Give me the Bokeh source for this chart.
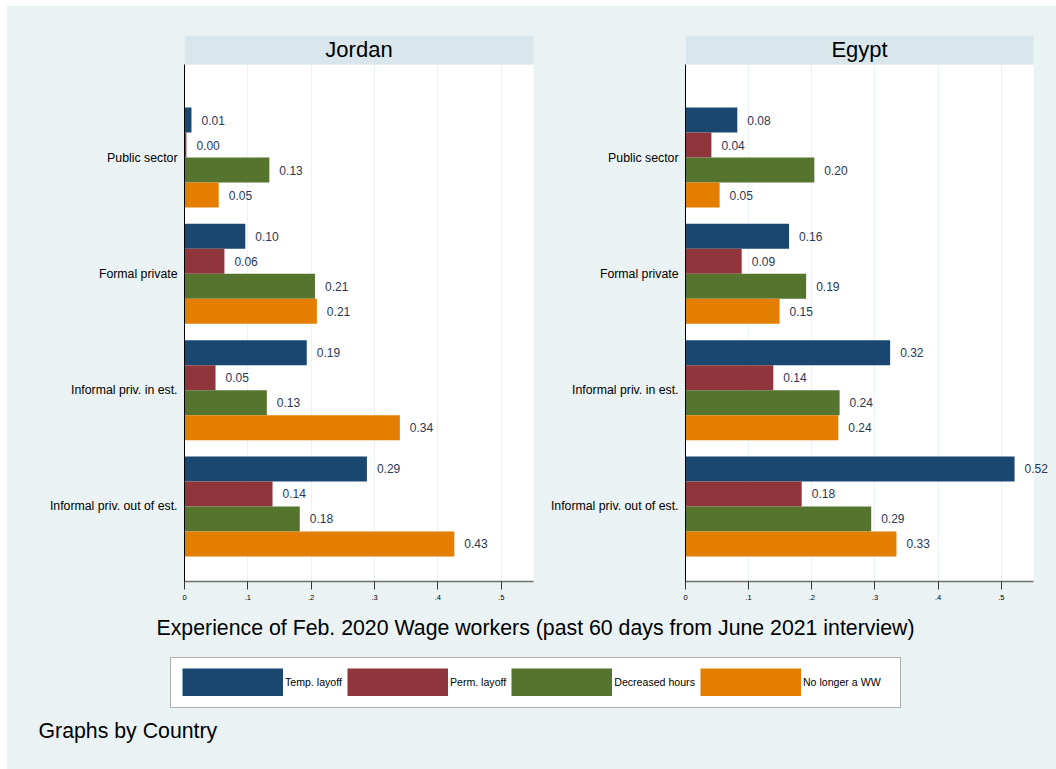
from bokeh.plotting import figure
from bokeh.models import (Range1d, FixedTicker, CustomJSTickFormatter, BoxAnnotation,
                          Label, Legend, LegendItem, ColumnDataSource, Spacer)
from bokeh.layouts import row, column
from bokeh.embed import file_html
from bokeh.resources import INLINE
from bokeh.core.properties import value

# ---------------- data ----------------
countries = ["Jordan", "Egypt"]
sectors = ["Public sector", "Formal private", "Informal priv. in est.", "Informal priv. out of est."]
series = ["Temp. layoff", "Perm. layoff", "Decreased hours", "No longer a WW"]
colors = ["#1A476F", "#90353B", "#55752F", "#E37E00"]

jordan_temp = [0.011, 0.096, 0.193, 0.288]
jordan_perm = [0.003, 0.063, 0.049, 0.139]
jordan_hours = [0.134, 0.206, 0.130, 0.182]
jordan_nolonger = [0.054, 0.209, 0.340, 0.426]

egypt_temp = [0.082, 0.164, 0.324, 0.521]
egypt_perm = [0.041, 0.089, 0.139, 0.184]
egypt_hours = [0.204, 0.191, 0.244, 0.294]
egypt_nolonger = [0.054, 0.149, 0.242, 0.334]

x_ticks = [0, 0.1, 0.2, 0.3, 0.4, 0.5]
x_title = "Experience of Feb. 2020 Wage workers (past 60 days from June 2021 interview)"
note = "Graphs by Country"

# ---------------- style ----------------
BG = "#EAF2F3"
HEADER = "#D9E6EB"
GRID = "#EAF2F3"
LABEL_COLOR = "#2A3756"
FONT = "Liberation Sans"

PX_PER_UNIT = 632.0   # horizontal pixels per 1.0 of share
BAR_H = 0.215
OFFSETS = [(k - 1.5) * BAR_H for k in range(4)]
X_MAX = 0.551
Y_TOP = -0.80          # top of plotting area (data units)
Y_HEAD = -1.049        # top of header strip
Y_BOTTOM = 3.645


def make_panel(name, data, width, left_border, extra_right_px):
    x_end = X_MAX + extra_right_px / PX_PER_UNIT
    p = figure(width=width, height=604,
               x_range=Range1d(0, x_end), y_range=Range1d(Y_BOTTOM, Y_HEAD),
               output_backend="svg", toolbar_location=None,
               min_border_left=left_border, min_border_right=0,
               min_border_top=29, min_border_bottom=29,
               border_fill_color=BG, background_fill_color=BG,
               outline_line_color=None)
    # white plot region
    p.add_layout(BoxAnnotation(left=0, right=X_MAX, top=Y_TOP, bottom=Y_BOTTOM,
                               fill_color="white", fill_alpha=1, line_color=None,
                               level="image"))
    p.ygrid.visible = False
    p.xgrid.grid_line_color = GRID
    p.xgrid.grid_line_width = 1

    for k, vals in enumerate(data):
        src = ColumnDataSource(dict(
            y=[i + OFFSETS[k] for i in range(len(sectors))],
            right=vals,
            label=["%.2f" % v for v in vals],
        ))
        p.hbar(y="y", left=0, right="right", height=BAR_H, source=src,
               fill_color=colors[k], line_color=None)
        p.text(x="right", y="y", text="label", source=src, x_offset=10,
               text_baseline="middle", text_align="left",
               text_font=value(FONT), text_font_size="12px", text_color=LABEL_COLOR)

    # header strip
    p.add_layout(BoxAnnotation(left=0, right=X_MAX, top=Y_HEAD, bottom=Y_TOP,
                               fill_color=HEADER, fill_alpha=1, line_color=None))
    p.add_layout(Label(x=X_MAX / 2, y=(Y_HEAD + Y_TOP) / 2, text=name,
                       text_align="center", text_baseline="middle",
                       text_font=FONT, text_font_size="22px", text_color="black"))

    # y axis
    ya = p.yaxis[0]
    ya.ticker = FixedTicker(ticks=list(range(len(sectors))))
    ya.major_label_overrides = {i: s for i, s in enumerate(sectors)}
    ya.bounds = (Y_TOP, Y_BOTTOM)
    ya.major_tick_out = 0
    ya.major_tick_in = 0
    ya.minor_tick_out = 0
    ya.minor_tick_in = 0
    ya.axis_line_color = "black"
    ya.axis_line_width = 1
    ya.major_label_text_font = FONT
    ya.major_label_text_font_size = "12.3px"
    ya.major_label_text_color = "black"
    ya.major_label_standoff = 7

    # x axis
    xa = p.xaxis[0]
    xa.ticker = FixedTicker(ticks=x_ticks)
    xa.bounds = (0, X_MAX)
    xa.formatter = CustomJSTickFormatter(
        code="return tick == 0 ? '0' : tick.toFixed(1).replace(/^0/, '');")
    xa.major_tick_out = 8
    xa.major_tick_in = 0
    xa.minor_tick_out = 0
    xa.minor_tick_in = 0
    xa.axis_line_color = "#707070"
    xa.axis_line_width = 1.5
    xa.major_tick_line_color = "#333333"
    xa.major_tick_line_width = 1
    xa.major_label_text_font = FONT
    xa.major_label_text_font_size = "7.5px"
    xa.major_label_text_color = "black"
    xa.major_label_standoff = 5
    return p


pj = make_panel(countries[0], [jordan_temp, jordan_perm, jordan_hours, jordan_nolonger],
                width=535, left_border=177, extra_right_px=9)
pe = make_panel(countries[1], [egypt_temp, egypt_perm, egypt_hours, egypt_nolonger],
                width=514, left_border=143, extra_right_px=23)

# ---------------- bottom: x title, legend, note ----------------
bf = figure(width=1049, height=159, x_range=Range1d(0, 1049), y_range=Range1d(159, 0),
            output_backend="svg", toolbar_location=None, min_border=0,
            x_axis_type=None, y_axis_type=None,
            border_fill_color=BG, background_fill_color=BG, outline_line_color=None)
bf.grid.visible = False

bf.add_layout(Label(x=528, y=17, text=x_title, text_align="center", text_baseline="middle",
                    text_font=FONT, text_font_size="21.3px", text_color="black"))
bf.add_layout(Label(x=31, y=120, text=note, text_align="left", text_baseline="middle",
                    text_font=FONT, text_font_size="21.3px", text_color="black"))

# legend frame
bf.add_layout(BoxAnnotation(left=163, right=893, top=47, bottom=97,
                            fill_color="white", fill_alpha=1,
                            line_color="black", line_width=1, level="underlay"))

items = []
for s, c in zip(series, colors):
    # legend-only renderer (thick line gives a full-size swatch); lies outside the view
    r = bf.line(x=[-20, -10], y=[-20, -20], line_color=c, line_width=28, line_cap="butt")
    items.append(LegendItem(label=s, renderers=[r]))

legend = Legend(items=items, orientation="horizontal", location=(175, 73),
                glyph_width=101, glyph_height=28, label_standoff=2, spacing=5,
                padding=0, margin=0,
                border_line_color=None, background_fill_alpha=0,
                label_text_font=FONT, label_text_font_size="10.6px",
                label_text_color="black", label_height=28)
bf.add_layout(legend)

inner = column(row(pj, pe, styles={"background-color": BG}), bf,
               styles={"background-color": BG})
layout = column(Spacer(height=6), row(Spacer(width=7), inner))

open("out.html", "w").write(file_html(layout, INLINE))
